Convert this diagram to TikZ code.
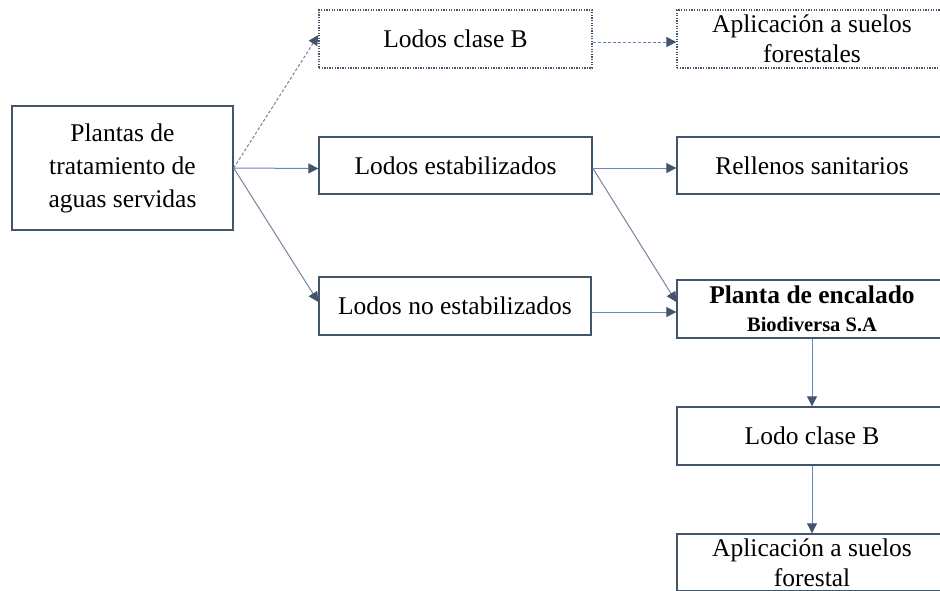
\documentclass[tikz,border=0pt]{standalone}
\usepackage{fontspec}
\setmainfont{Liberation Serif}
\usetikzlibrary{arrows.meta,calc}
\definecolor{boxc}{HTML}{44546A}
\definecolor{linec}{HTML}{7585A0}
\tikzset{
  box/.style={draw=boxc, line width=1.4pt, rectangle, inner sep=2pt, align=center,
    font=\fontsize{25.5}{30}\selectfont, text=black},
  dotbox/.style={box, line width=1.3pt, dash pattern=on 1.3pt off 1.3pt},
  conn/.style={draw=linec, line width=1pt, -{Triangle[length=10pt,width=10pt,color=boxc]}},
  dconn/.style={conn, dash pattern=on 3pt off 2pt}
}
\begin{document}
\begin{tikzpicture}[x=1pt,y=-1pt]
\clip (0,0) rectangle (940,590);
\fill[white] (0,0) rectangle (940,590);
\node[box, minimum width=221, minimum height=124, font=\fontsize{25.5}{33}\selectfont] (pl) at (122.5,168) {Plantas de\\tratamiento de\\aguas servidas};
\node[dotbox, minimum width=273, minimum height=58] (lcb) at (455.5,39) {Lodos clase B};
\node[dotbox, minimum width=270, minimum height=58] (ap1) at (812,39) {Aplicación a suelos\\forestales};
\node[box, minimum width=273, minimum height=57] (les) at (455.5,165.5) {Lodos estabilizados};
\node[box, minimum width=270, minimum height=57] (rel) at (812,165.5) {Rellenos sanitarios};
\node[box, minimum width=272, minimum height=58] (lne) at (455,306) {Lodos no estabilizados};
\node[box, minimum width=270, minimum height=58] (pe) at (812,309) {\textbf{Planta de encalado}\\[-2pt]{\fontsize{20.5}{24}\selectfont\textbf{Biodiversa S.A}}};
\node[box, minimum width=270, minimum height=58] (lcb2) at (812,436) {Lodo clase B};
\node[box, minimum width=270, minimum height=57] (ap2) at (812,562.5) {Aplicación a suelos\\forestal};
\draw[dconn] (pl.east) -- ([yshift=4pt]lcb.west);
\draw[conn] (pl.east) -- ([yshift=-3pt]les.west);
\draw[conn] (pl.east) -- ([yshift=4pt]lne.west);
\draw[dconn] ([yshift=-3pt]lcb.east) -- ([yshift=-3pt]ap1.west);
\draw[conn] ([yshift=-2.5pt]les.east) -- ([yshift=-2.5pt]rel.west);
\draw[conn] ([yshift=-2.5pt]les.east) -- ([yshift=7pt]pe.west);
\draw[conn] ([yshift=-6pt]lne.east) -- ([yshift=-3pt]pe.west);
\draw[conn] (pe.south) -- (lcb2.north);
\draw[conn] (lcb2.south) -- (ap2.north);
\end{tikzpicture}
\end{document}
